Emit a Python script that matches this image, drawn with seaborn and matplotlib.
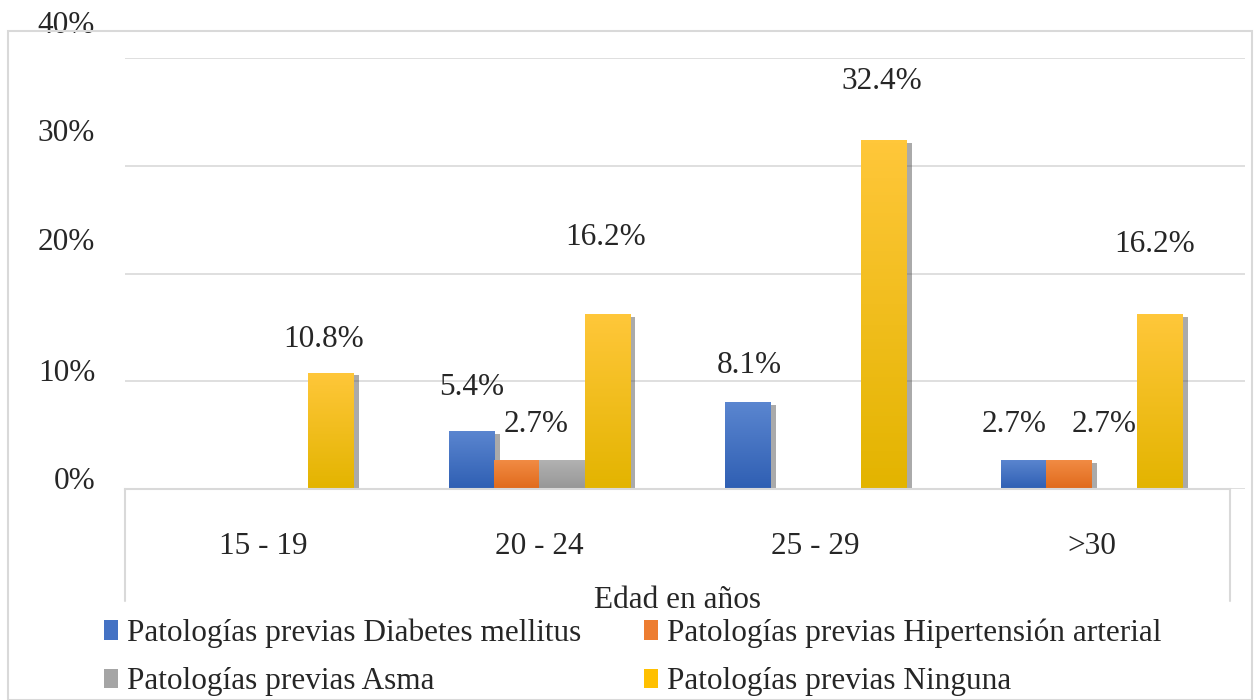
import numpy as np
import pandas as pd
import matplotlib
matplotlib.use("Agg")
import matplotlib.pyplot as plt
import matplotlib.patheffects as pe
from matplotlib.colors import LinearSegmentedColormap
from matplotlib.patches import Rectangle
from matplotlib.lines import Line2D
import matplotlib.transforms as mtransforms
import seaborn as sns

# Data
grupos = ["15 - 19", "20 - 24", "25 - 29", ">30"]
series = ["Patologías previas Diabetes mellitus",
          "Patologías previas Hipertensión arterial",
          "Patologías previas Asma",
          "Patologías previas Ninguna"]
diabetes = [0.0, 5.4, 8.1, 2.7]
hipertension = [0.0, 2.7, 0.0, 2.7]
asma = [0.0, 2.7, 0.0, 0.0]
ninguna = [10.8, 16.2, 32.4, 16.2]

colores = ["#4472C4", "#ED7D31", "#A5A5A5", "#FFC000"]
claros = ["#5B86D0", "#F28C45", "#B3B3B3", "#FFC73A"]
oscuros = ["#2F5FB3", "#E06A1B", "#969696", "#E3B400"]

df = pd.DataFrame({
    "grupo": grupos * 4,
    "serie": np.repeat(series, 4),
    "valor": diabetes + hipertension + asma + ninguna,
})

FS = 22.5

sns.set_theme(style="white")
plt.rcParams["font.family"] = ["Liberation Serif", "DejaVu Serif"]
plt.rcParams["font.size"] = FS

fig = plt.figure(figsize=(12.59, 7.0), dpi=100)
ax = fig.add_axes([125 / 1259, 1 - 489 / 700, (1245 - 125) / 1259, (489 - 58) / 700])

sns.barplot(data=df, x="grupo", y="valor", hue="serie", hue_order=series,
            palette=colores, width=0.655, gap=0, legend=False, ax=ax,
            saturation=1, linewidth=0, err_kws={"linewidth": 0})

# gradient fill + shadow on each bar
for i, cont in enumerate(ax.containers):
    cmap = LinearSegmentedColormap.from_list("g", [oscuros[i], claros[i]])
    for bar in cont:
        h = bar.get_height()
        if h <= 0:
            bar.set_visible(False)
            continue
        bar.set_path_effects([pe.SimplePatchShadow(offset=(4, -2), shadow_rgbFace="#444444", alpha=0.45),
                              pe.Normal()])
        x0 = bar.get_x()
        w = bar.get_width()
        grad = np.linspace(0, 1, 100).reshape(-1, 1)
        im = ax.imshow(grad, cmap=cmap, aspect="auto", origin="lower",
                       extent=[x0, x0 + w, 0, h], zorder=bar.get_zorder() + 0.1)
        im.set_clip_path(bar)

# categories end at the box edge, gridlines run a little further right
ax.set_xlim(-0.5, 3.555)
ax.set_ylim(0, 40)
ax.set_yticks([0, 10, 20, 30, 40])
ax.set_yticklabels(["0%", "10%", "20%", "30%", "40%"])
ax.yaxis.grid(True, color="#D9D9D9", linewidth=1.2)
ax.set_axisbelow(True)
for s in ["top", "right", "left"]:
    ax.spines[s].set_visible(False)
ax.spines["bottom"].set_color("#D9D9D9")
ax.spines["bottom"].set_linewidth(1.5)
ax.spines["bottom"].set_bounds(-0.5, 3.5)
ax.tick_params(axis="y", length=0, pad=21.5, labelsize=FS)
ax.tick_params(axis="x", length=0, pad=31, labelsize=FS)
ax.set_xlabel("Edad en años", labelpad=20, fontsize=FS)
ax.xaxis.set_label_coords((3.5 + 0.5) / 2 / 4.055, -0.225)
ax.set_ylabel("")

# y tick labels sit a bit above their gridlines in the original
desplaz = [11, 11, 35, 36, 36]
for lab, d in zip(ax.get_yticklabels(), desplaz):
    lab.set_transform(lab.get_transform() + mtransforms.ScaledTranslation(0, d / 100, fig.dpi_scale_trans))

# box around the category axis area
caja = dict(color="#D9D9D9", linewidth=1.5, clip_on=False)
tr = mtransforms.blended_transform_factory(ax.transData, fig.transFigure)
for xv in (-0.5, 3.5):
    fig.add_artist(Line2D([xv, xv], [1 - 489 / 700, 1 - 601 / 700], transform=tr, **caja))

# data labels (offsets in pixels: dx, dy)
etiquetas = {
    (3, 0): (-7, 33), (3, 1): (-2, 77), (3, 2): (-2, 58), (3, 3): (-5, 70),
    (0, 1): (0, 43), (0, 2): (2, 36), (0, 3): (-10, 35),
    (1, 1): (19, 35), (1, 3): (35, 35),
}
for (si, gi), (dx, dy) in etiquetas.items():
    bar = ax.containers[si][gi]
    xc = bar.get_x() + bar.get_width() / 2
    ax.annotate(f"{bar.get_height():.1f}%", (xc, bar.get_height()),
                xytext=(dx, dy), textcoords="offset pixels",
                ha="center", va="center", fontsize=FS, zorder=10)

# outer chart border
fig.add_artist(Rectangle((8 / 1259, 0), (1252 - 8) / 1259, 1 - 31 / 700,
                         transform=fig.transFigure, fill=False,
                         edgecolor="#D9D9D9", linewidth=1.5))

# legend filled row by row: Diabetes, Hipertensión / Asma, Ninguna
orden = [0, 2, 1, 3]
handles = [Rectangle((0, 0), 1, 1, facecolor=colores[k], edgecolor="none") for k in orden]
fig.legend(handles, [series[k] for k in orden], loc="upper left",
           bbox_to_anchor=(88 / 1259, 1 - 603 / 700),
           ncol=2, frameon=False, fontsize=FS, handlelength=0.45, handleheight=0.6,
           handletextpad=0.3, columnspacing=2.0, labelspacing=0.62, borderpad=0)

fig.savefig("out.png", dpi=100)
